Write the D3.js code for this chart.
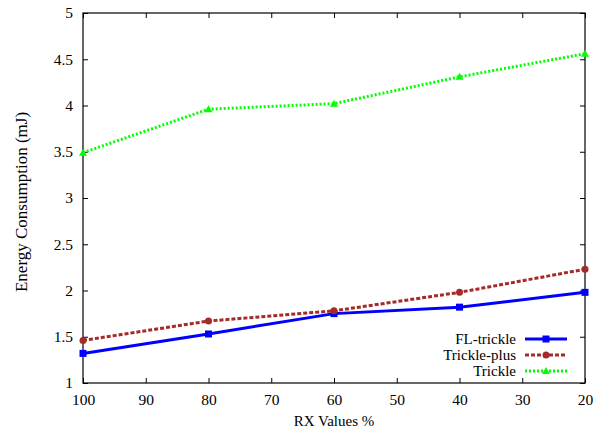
<!DOCTYPE html>
<html><head><meta charset="utf-8">
<script src="https://cdn.jsdelivr.net/npm/d3@7"></script>
</head><body style="margin:0;background:#fff">
<svg id="c" width="606" height="432" font-family="Liberation Serif"></svg>
<script>
const xValues = [100, 80, 60, 40, 20];
const flTrickle = [1.32, 1.53, 1.75, 1.82, 1.98];
const tricklePlus = [1.46, 1.67, 1.78, 1.98, 2.23];
const trickle = [3.49, 3.96, 4.02, 4.31, 4.56];
const xTicks = [100, 90, 80, 70, 60, 50, 40, 30, 20];
const yTicks = [1, 1.5, 2, 2.5, 3, 3.5, 4, 4.5, 5];
const seriesNames = ["FL-trickle", "Trickle-plus", "Trickle"];

const svg = d3.select("#c");
const L = 83, R = 585, T = 13, B = 383;
const x = d3.scaleLinear().domain([100, 20]).range([L, R]);
const y = d3.scaleLinear().domain([1, 5]).range([B, T]);
const FONT = "Liberation Serif";

const series = [
  {name: seriesNames[0], vals: flTrickle, color: "#0000ff", dash: null, marker: "square"},
  {name: seriesNames[1], vals: tricklePlus, color: "#a52a2a", dash: "4,2", marker: "circle"},
  {name: seriesNames[2], vals: trickle, color: "#00ff00", dash: "2,2", marker: "triangle"}
];

function tickFmt(d){ return String(d); }

const gB = svg.append("g").attr("transform", `translate(0,${B})`)
  .call(d3.axisBottom(x).tickValues(xTicks).tickSize(-5).tickPadding(10).tickFormat(tickFmt));
const gT = svg.append("g").attr("transform", `translate(0,${T})`)
  .call(d3.axisTop(x).tickValues(xTicks).tickSize(-5).tickFormat(""));
const gL = svg.append("g").attr("transform", `translate(${L},0)`)
  .call(d3.axisLeft(y).tickValues(yTicks).tickSize(-5).tickPadding(10).tickFormat(tickFmt));
const gR = svg.append("g").attr("transform", `translate(${R},0)`)
  .call(d3.axisRight(y).tickValues(yTicks).tickSize(-5).tickFormat(""));
[gB, gT, gL, gR].forEach(g => {
  g.attr("font-family", FONT).attr("font-size", 15.5);
  g.select(".domain").remove();
  g.selectAll(".tick line").attr("stroke", "#000").attr("stroke-width", 1);
  g.selectAll("text").attr("font-family", FONT).attr("font-size", 15.5).attr("fill", "#000");
});
gB.selectAll("text").attr("dy", "0.71em").attr("y", 11);
gL.selectAll("text").attr("x", -10);

svg.append("rect").attr("x", L).attr("y", T).attr("width", R - L).attr("height", B - T)
  .attr("fill", "none").attr("stroke", "#000").attr("stroke-width", 1.2);

svg.append("text").attr("x", (L + R) / 2).attr("y", 426).attr("text-anchor", "middle")
  .attr("font-family", FONT).attr("font-size", 15).text("RX Values %");
svg.append("text").attr("transform", `translate(26.5,202) rotate(-90)`)
  .attr("text-anchor", "middle").attr("font-family", FONT).attr("font-size", 17)
  .text("Energy Consumption (mJ)");

function drawMarker(g, type, cx, cy, color) {
  if (type === "square") g.append("rect").attr("x", cx - 3.5).attr("y", cy - 3.5).attr("width", 7).attr("height", 7).attr("fill", color);
  else if (type === "circle") g.append("circle").attr("cx", cx).attr("cy", cy).attr("r", 3.5).attr("fill", color);
  else g.append("path").attr("d", `M${cx},${cy - 4}L${cx + 4},${cy + 3}L${cx - 4},${cy + 3}Z`).attr("fill", color);
}

const line = d3.line().x((d, i) => x(xValues[i])).y(d => y(d));
series.forEach(s => {
  svg.append("path").datum(s.vals).attr("d", line).attr("fill", "none")
    .attr("stroke", s.color).attr("stroke-width", 3).attr("stroke-dasharray", s.dash);
  const g = svg.append("g");
  s.vals.forEach((v, i) => drawMarker(g, s.marker, x(xValues[i]), y(v), s.color));
});

const legY = [339, 355, 371];
series.forEach((s, i) => {
  const yy = legY[i];
  svg.append("text").attr("x", 516).attr("y", yy).attr("dy", "0.35em").attr("text-anchor", "end")
    .attr("font-family", FONT).attr("font-size", 15).text(s.name);
  svg.append("line").attr("x1", 525).attr("x2", 567).attr("y1", yy).attr("y2", yy)
    .attr("stroke", s.color).attr("stroke-width", 3).attr("stroke-dasharray", s.dash);
  drawMarker(svg, s.marker, 546, yy, s.color);
});
</script>
</body></html>
